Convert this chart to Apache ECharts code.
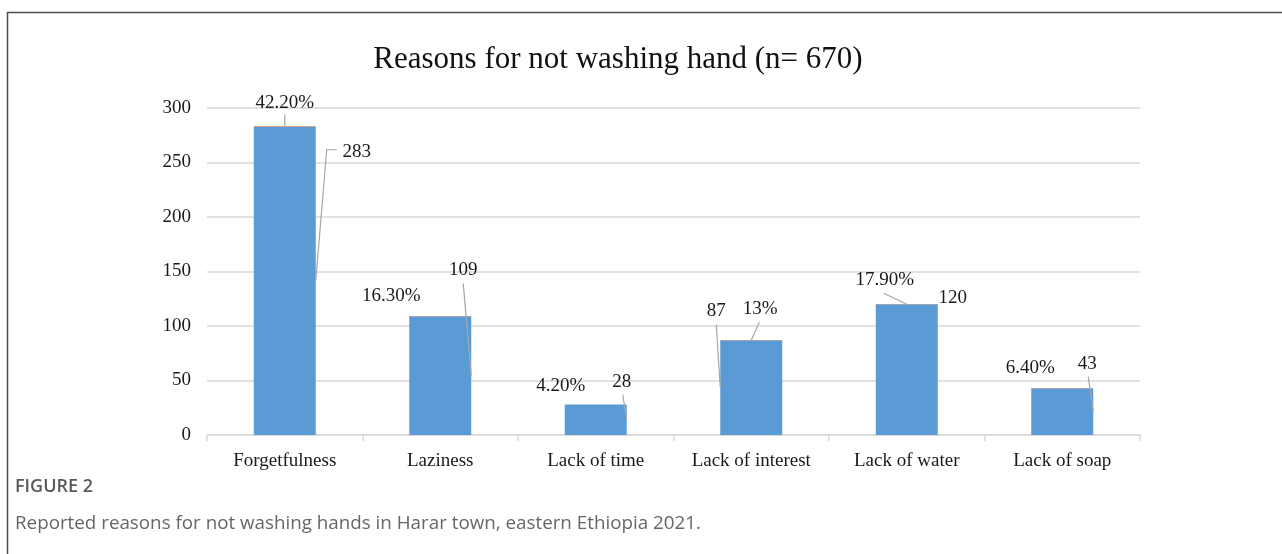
<!DOCTYPE html>
<html>
<head>
<meta charset="utf-8">
<script src="https://cdn.jsdelivr.net/npm/echarts@6/dist/echarts.min.js"></script>
<style>
  html, body { margin: 0; padding: 0; background: #fff; }
  #chart { width: 1282px; height: 554px; }
</style>
</head>
<body>
<div id="chart"></div>
<script>
// data
const categories = ["Forgetfulness", "Laziness", "Lack of time", "Lack of interest", "Lack of water", "Lack of soap"];
const counts = [283, 109, 28, 87, 120, 43];
const percents = [42.2, 16.3, 4.2, 13, 17.9, 6.4];
const percentLabels = ["42.20%", "16.30%", "4.20%", "13%", "17.90%", "6.40%"];
const yTicks = [0, 50, 100, 150, 200, 250, 300];

// callout placement (pixel offsets from the bar anchor)
const BAR_W = 62;
const countCallouts = [
  { anchor: "right-mid", dx: 41, dy: -129, line: [[-20, -2], [-30, -2]] },
  { anchor: "right-mid", dx: -8, dy: -106, line: [[0, 14]] },
  { anchor: "right-mid", dx: -5, dy: -38, line: [[1, 13]] },
  { anchor: "left-mid", dx: -4, dy: -77, line: [[0, 14]] },
  { anchor: "right-top", dx: 15, dy: -6, line: null },
  { anchor: "right-mid", dx: -6, dy: -48, line: [[1, 13]] }
];
const pctCallouts = [
  { dx: 0, dy: -24, line: [[0, 12]] },
  { dx: -49, dy: -20, line: null },
  { dx: -35, dy: -18, line: null },
  { dx: 9, dy: -31, line: [[-1, 13]] },
  { dx: -22, dy: -24, line: [[-1, 13]] },
  { dx: -32, dy: -20, line: null }
];

const serif = '"Liberation Serif", "Times New Roman", serif';
const labelFont = '19px ' + serif;

const chart = echarts.init(document.getElementById("chart"), null, { renderer: "canvas" });

function calloutItem(anchorPt, c, text) {
  const lx = anchorPt[0] + c.dx;
  const ly = anchorPt[1] + c.dy;
  const children = [{
    type: "text",
    style: { text: text, x: lx, y: ly, align: "center", verticalAlign: "middle", font: labelFont, fill: "#1a1a1a" }
  }];
  if (c.line) {
    const pts = c.line.map((p) => [lx + p[0], ly + p[1]]);
    pts.push(anchorPt);
    children.push({
      type: "polyline",
      shape: { points: pts },
      style: { stroke: "#a6a6a6", lineWidth: 1.2, fill: null }
    });
  }
  return children;
}

const option = {
  animation: false,
  grid: { left: 207, right: 142, top: 108, bottom: 119 },
  xAxis: {
    type: "category",
    data: categories,
    axisLine: { lineStyle: { color: "#d9d9d9", width: 1.5 } },
    axisTick: { show: true, length: 6, lineStyle: { color: "#d9d9d9", width: 1.5 } },
    axisLabel: { color: "#1a1a1a", fontFamily: serif, fontSize: 19, margin: 17 }
  },
  yAxis: {
    type: "value",
    min: yTicks[0],
    max: yTicks[yTicks.length - 1],
    interval: 50,
    axisLine: { show: false },
    axisTick: { show: false },
    splitLine: { lineStyle: { color: "#d9d9d9", width: 1.5 } },
    axisLabel: { color: "#1a1a1a", fontFamily: serif, fontSize: 19, margin: 16 }
  },
  series: [
    {
      name: "Count",
      type: "bar",
      stack: "total",
      barWidth: BAR_W,
      data: counts,
      itemStyle: { color: "#5b9bd5" }
    },
    {
      name: "Percent",
      type: "bar",
      stack: "total",
      barWidth: BAR_W,
      data: percents.map((p) => p / 100),
      itemStyle: { color: "#ed7d31" }
    },
    {
      name: "Callouts",
      type: "custom",
      z: 5,
      clip: false,
      data: counts.map((c, i) => [i, c, percents[i]]),
      renderItem: function (params, api) {
        const i = api.value(0);
        const v = api.value(1);
        const top = api.coord([i, v]);
        const mid = api.coord([i, v / 2]);
        const half = BAR_W / 2;
        const cc = countCallouts[i];
        let a;
        if (cc.anchor === "right-mid") a = [mid[0] + half, mid[1]];
        else if (cc.anchor === "left-mid") a = [mid[0] - half, mid[1]];
        else a = [top[0] + half, top[1]];
        const children = calloutItem(a, cc, String(v))
          .concat(calloutItem([top[0], top[1]], pctCallouts[i], percentLabels[i]));
        return { type: "group", children: children };
      }
    }
  ],
  graphic: [
    {
      type: "polyline",
      shape: { points: [[7.5, 554], [7.5, 12.5], [1282, 12.5]] },
      style: { stroke: "#4d4d4d", lineWidth: 1.5, fill: null }
    },
    {
      type: "text",
      x: 618, y: 60,
      style: { text: "Reasons for not washing hand (n= 670)", align: "center", verticalAlign: "middle", font: "31px " + serif, fill: "#111" }
    },
    {
      type: "text",
      x: 15, y: 487,
      style: { text: "FIGURE 2", verticalAlign: "middle", font: '600 18px "Open Sans", sans-serif', fill: "#5a5a5a" }
    },
    {
      type: "text",
      x: 15, y: 524,
      style: { text: "Reported reasons for not washing hands in Harar town, eastern Ethiopia 2021.", verticalAlign: "middle", font: '18.8px "Open Sans", sans-serif', fill: "#666" }
    }
  ]
};

chart.setOption(option);
</script>
</body>
</html>
